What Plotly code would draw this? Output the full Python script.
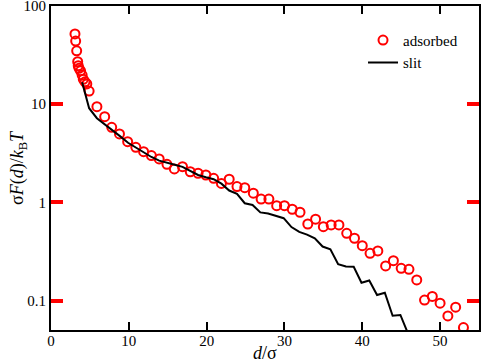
import plotly.graph_objects as go

# Données : courbe "adsorbed" (cercles)
ads_d = [3.08, 3.17, 3.3, 3.43, 3.5, 3.6, 3.8, 4.0, 4.15, 4.37, 4.6, 4.9,
         5.9, 6.9, 7.8, 8.8, 9.85, 10.9, 11.9, 12.9, 13.9, 14.9, 15.85,
         16.9, 17.9, 18.9, 19.9, 20.9, 21.9, 22.9, 23.9, 24.9, 26.0, 27.0,
         28.0, 29.0, 30.0, 31.0, 32.0, 33.0, 34.0, 35.0, 36.0, 37.0, 38.0,
         39.0, 40.0, 41.0, 42.0, 43.0, 44.0, 45.0, 46.0, 47.0, 48.0, 49.0,
         50.0, 51.0, 52.0, 53.0]
ads_f = [51.9, 44, 35, 27.1, 24.7, 23.2, 21.9, 19.8, 17.9, 16.9, 16.1, 13.6,
         9.44, 7.46, 5.82, 4.98, 4.15, 3.64, 3.28, 3.0, 2.77, 2.44, 2.19,
         2.31, 2.05, 1.98, 1.90, 1.76, 1.56, 1.72, 1.45, 1.41, 1.24, 1.08,
         1.08, 0.925, 0.925, 0.851, 0.793, 0.602, 0.675, 0.566, 0.589, 0.589,
         0.484, 0.431, 0.362, 0.303, 0.320, 0.225, 0.255, 0.213, 0.208,
         0.162, 0.101, 0.110, 0.094, 0.0697, 0.0855, 0.053]

# Courbe "slit" (trait continu)
slit_d = [4.0, 4.6, 4.9, 5.9, 6.9, 7.9, 8.9, 9.9, 10.9, 11.9, 12.9, 13.9,
          14.9, 15.9, 16.9, 17.9, 18.9, 19.9, 20.9, 21.9, 22.9, 23.9, 24.9,
          25.9, 26.9, 27.9, 28.9, 29.9, 30.9, 31.9, 32.9, 33.9, 34.9, 35.9,
          36.9, 37.9, 38.9, 39.9, 40.9, 41.9, 42.9, 43.9, 44.9, 46.2]
slit_f = [16.7, 11.0, 9.1, 7.2, 6.2, 5.4, 4.7, 4.05, 3.6, 3.2, 2.9, 2.66,
          2.55, 2.42, 2.3, 2.1, 1.9, 1.8, 1.72, 1.55, 1.32, 1.22, 0.98,
          0.94, 0.79, 0.77, 0.73, 0.69, 0.56, 0.50, 0.47, 0.43, 0.355, 0.333,
          0.235, 0.222, 0.221, 0.152, 0.160, 0.114, 0.120, 0.070, 0.0713,
          0.04]

serif = "Liberation Serif, Times New Roman, serif"

fig = go.Figure()
fig.add_trace(go.Scatter(x=ads_d, y=ads_f, mode="markers", name="adsorbed",
                         marker=dict(symbol="circle-open", size=9,
                                     color="red", line=dict(width=2))))
fig.add_trace(go.Scatter(x=slit_d, y=slit_f, mode="lines", name="slit",
                         line=dict(color="black", width=2)))

base = dict(showline=True, linecolor="black", linewidth=2, showgrid=False,
            zeroline=False, automargin=False, ticklabeloverflow="allow",
            tickfont=dict(family=serif, size=15, color="black"))
# Essai : graduations noires fines en bas, rouges épaisses à gauche
fig.update_xaxes(range=[0, 55], dtick=10, tick0=0, ticks="inside",
                 ticklen=8, tickwidth=2, tickcolor="black", mirror="ticks",
                 ticklabelstandoff=-4, **base)
fig.update_yaxes(type="log", range=[-1.3, 2.0002], dtick=1, ticks="inside",
                 ticklen=12, tickwidth=4, tickcolor="red", mirror="ticks",
                 **base)

# Titres d'axes placés à la main (annotations)
title_font = dict(family=serif, size=18, color="black")
fig.add_annotation(text="<i>d</i>/σ", xref="paper", yref="paper",
                   x=0.5, y=0, xanchor="center", yanchor="middle",
                   yshift=-23, showarrow=False, font=title_font)
fig.add_annotation(text="σ<i>F</i>(<i>d</i>)/<i>k</i><sub>B</sub><i>T</i>",
                   xref="paper", yref="paper", x=0, y=0.5,
                   xanchor="center", yanchor="middle", xshift=-33,
                   textangle=-90, showarrow=False, font=title_font)

fig.update_layout(width=481, height=364,
                  margin=dict(l=51, r=2, t=6, b=34),
                  plot_bgcolor="white", paper_bgcolor="white",
                  font=dict(family=serif, size=15, color="black"),
                  legend=dict(x=0.729, y=0.945, xanchor="left",
                              yanchor="top", bgcolor="rgba(0,0,0,0)",
                              itemwidth=30, tracegroupgap=0,
                              font=dict(family=serif, size=15)))

fig.write_html("out.html", config={"displayModeBar": False},
               post_script="document.body.style.margin='0px';")
